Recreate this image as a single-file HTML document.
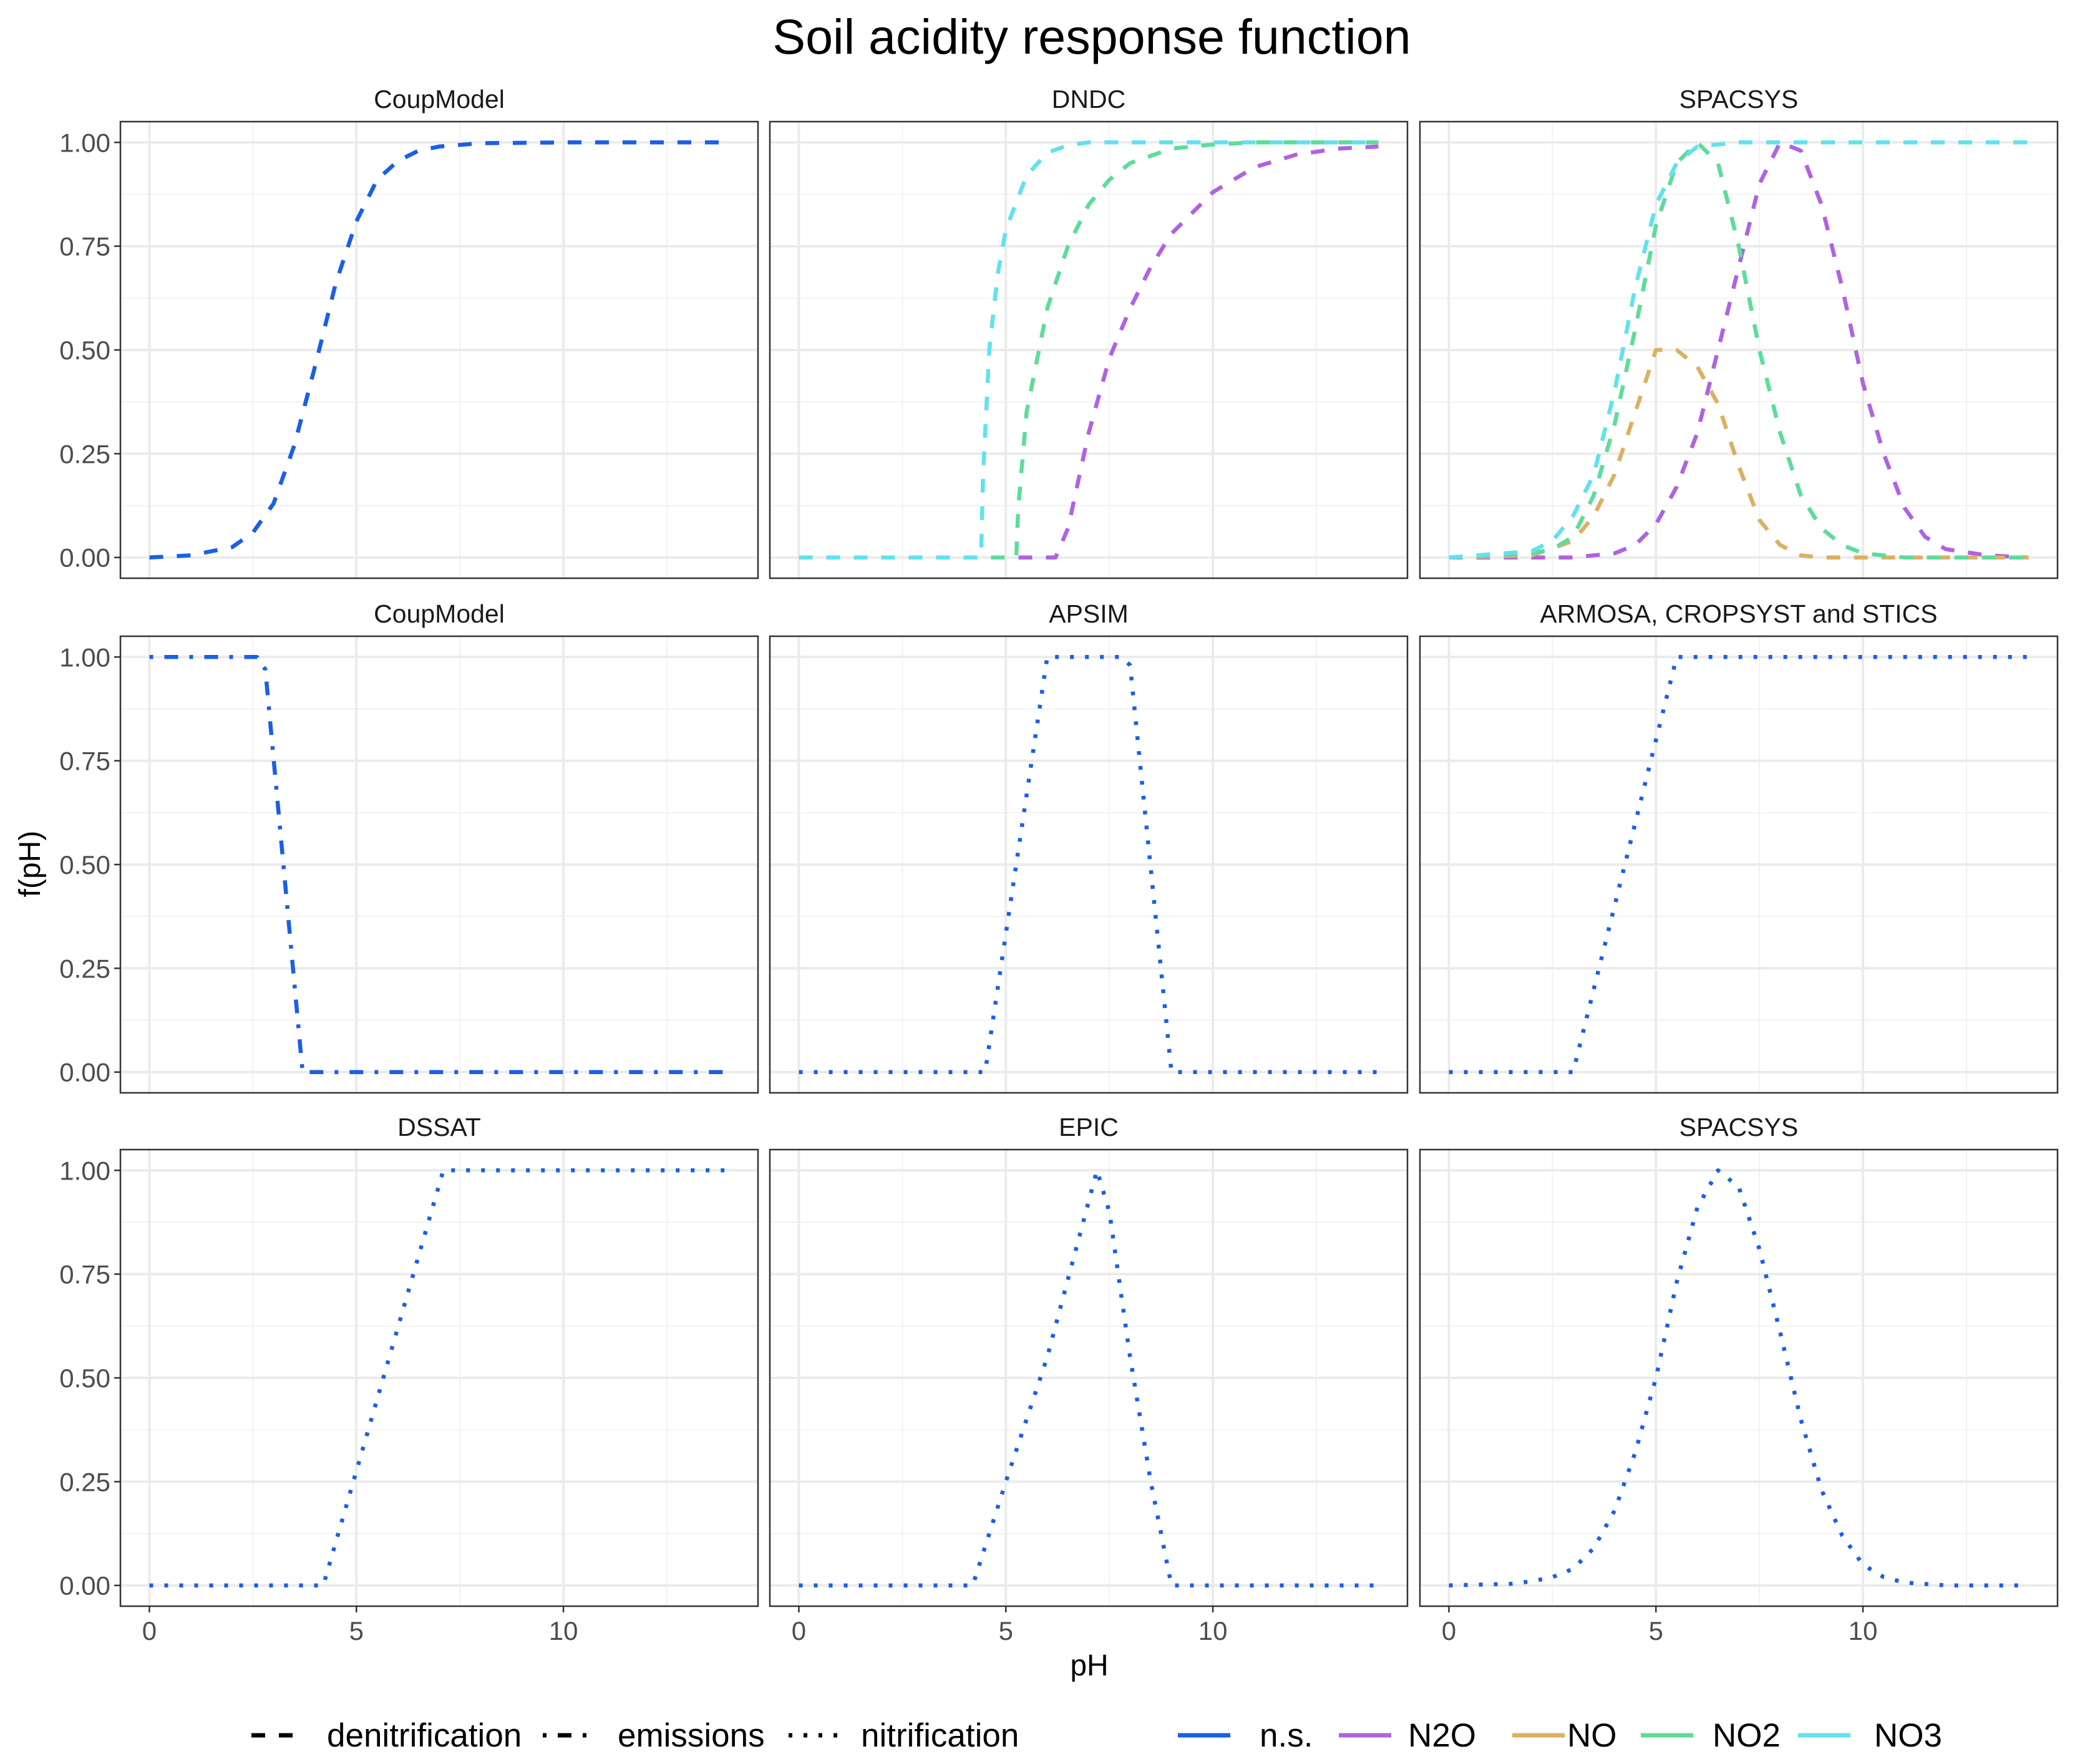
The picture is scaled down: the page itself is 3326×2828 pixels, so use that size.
<!DOCTYPE html>
<html><head><meta charset="utf-8">
<style>
html,body{margin:0;padding:0;background:#fff;}
svg{display:block;font-family:"Liberation Sans",Arial,sans-serif;}
</style></head>
<body>
<svg id="chart" width="3326" height="2828" viewBox="0 0 3326 2828" xmlns="http://www.w3.org/2000/svg">
<rect width="3326" height="2828" fill="#fff"/>
<text x="1750" y="86" font-size="79" text-anchor="middle" fill="#000">Soil acidity response function</text>
<text x="1746" y="2686" font-size="48" text-anchor="middle" fill="#000">pH</text>
<text x="0" y="0" font-size="48" text-anchor="middle" fill="#000" transform="translate(64,1385) rotate(-90)">f(pH)</text>
<g id="panels"></g>
<g id="legend"></g>
</svg>
<script>
// ---- data (pH, f(pH)) ----
const coupDenX = [0,1,2,2.5,3,3.5,4,4.5,5,5.5,6,6.5,7,8,10,14];
const coupDenY = [0,0.005,0.025,0.06,0.13,0.27,0.46,0.66,0.81,0.91,0.955,0.98,0.99,0.998,1,1];
const dndcNO3X = [0,4.4,4.45,4.6,4.8,5,5.5,6,6.5,7,14];
const dndcNO3Y = [0,0,0.2,0.5,0.68,0.79,0.92,0.975,0.993,1,1];
const dndcNO2X = [0,5.25,5.3,5.5,6,6.5,7,7.5,8,9,10,11,14];
const dndcNO2Y = [0,0,0.12,0.35,0.6,0.75,0.85,0.91,0.95,0.985,0.995,1,1];
const dndcN2OX = [0,6.2,6.5,7,7.5,8,8.5,9,10,11,12,13,14];
const dndcN2OY = [0,0,0.07,0.3,0.48,0.6,0.7,0.78,0.88,0.94,0.97,0.985,0.99];
const spN2OX = [0,3,4,4.5,5,5.5,6,6.5,7,7.5,8,8.5,9,9.5,10,10.5,11,11.5,12,13,14];
const spN2OY = [0,0,0.01,0.03,0.08,0.17,0.3,0.5,0.7,0.9,1,0.98,0.85,0.65,0.42,0.25,0.12,0.05,0.02,0.005,0];
const spNOX = [0,2,3,3.5,4,4.5,5,5.5,6,6.5,7,7.5,8,8.5,9,14];
const spNOY = [0,0.005,0.04,0.1,0.2,0.35,0.5,0.5,0.46,0.37,0.22,0.09,0.03,0.005,0,0];
const spNO2X = [0,2,2.5,3,3.5,4,4.5,5,5.5,6,6.5,7,7.5,8,8.5,9,9.5,10,11,14];
const spNO2Y = [0,0.01,0.02,0.05,0.15,0.32,0.55,0.8,0.95,1,0.95,0.75,0.5,0.3,0.15,0.07,0.03,0.01,0,0];
const spNO3X = [0,2,2.5,3,3.5,4,4.5,5,5.5,6,7,14];
const spNO3Y = [0,0.015,0.04,0.1,0.2,0.4,0.65,0.85,0.95,0.99,1,1];
const coupEmiX = [0,2.6,2.8,3.7,14];
const coupEmiY = [1,1,0.97,0,0];
const apsimX = [0,4.5,6,7.8,8,9,14];
const apsimY = [0,0,1,1,0.98,0,0];
const armosaX = [0,3,5.5,14];
const armosaY = [0,0,1,1];
const dssatX = [0,4.2,7.1,14];
const dssatY = [0,0,1,1];
const epicX = [0,4.2,5,6,6.8,7.2,7.5,8,8.5,9,14];
const epicY = [0,0,0.25,0.55,0.85,1,0.9,0.55,0.25,0,0];
const spNitX = [0,1.5,2,2.5,3,3.5,4,4.5,5,5.5,6,6.5,7,7.5,8,8.5,9,9.5,10,10.5,11,12,14];
const spNitY = [0,0.004,0.01,0.02,0.04,0.09,0.18,0.32,0.5,0.73,0.91,1,0.96,0.81,0.61,0.4,0.23,0.12,0.05,0.02,0.007,0,0];
const xTicks = [0,5,10];
const yTicks = [0,0.25,0.5,0.75,1];
const yTickLabels = ["0.00","0.25","0.50","0.75","1.00"];
const legendTypes = ["denitrification","emissions","nitrification"];
const legendColors = ["n.s.","N2O","NO","NO2","NO3"];

const COL = {"n.s.":"#1a5fe6","N2O":"#b062e0","NO":"#dcb063","NO2":"#5ddc9a","NO3":"#62e1ee"};
const DASH = {"denitrification":"22 22","emissions":"6 18 22 18","nitrification":"6 18"};

const panels = [
 {title:"CoupModel",r:0,c:0,series:[[coupDenX,coupDenY,"n.s.","denitrification"]]},
 {title:"DNDC",r:0,c:1,series:[[dndcN2OX,dndcN2OY,"N2O","denitrification"],[dndcNO2X,dndcNO2Y,"NO2","denitrification"],[dndcNO3X,dndcNO3Y,"NO3","denitrification"]]},
 {title:"SPACSYS",r:0,c:2,series:[[spN2OX,spN2OY,"N2O","denitrification"],[spNOX,spNOY,"NO","denitrification"],[spNO2X,spNO2Y,"NO2","denitrification"],[spNO3X,spNO3Y,"NO3","denitrification"]]},
 {title:"CoupModel",r:1,c:0,series:[[coupEmiX,coupEmiY,"n.s.","emissions"]]},
 {title:"APSIM",r:1,c:1,series:[[apsimX,apsimY,"n.s.","nitrification"]]},
 {title:"ARMOSA, CROPSYST and STICS",r:1,c:2,series:[[armosaX,armosaY,"n.s.","nitrification"]]},
 {title:"DSSAT",r:2,c:0,series:[[dssatX,dssatY,"n.s.","nitrification"]]},
 {title:"EPIC",r:2,c:1,series:[[epicX,epicY,"n.s.","nitrification"]]},
 {title:"SPACSYS",r:2,c:2,series:[[spNitX,spNitY,"n.s.","nitrification"]]}
];

const NS="http://www.w3.org/2000/svg";
const lefts=[193,1234,2276], tops=[195,1020,1843], PW=1022, PH=732;
function mk(tag,attrs,parent){const e=document.createElementNS(NS,tag);for(const k in attrs)e.setAttribute(k,attrs[k]);parent.appendChild(e);return e;}
const root=document.getElementById('panels');
panels.forEach((p,i)=>{
  const L=lefts[p.c],T=tops[p.r];
  const sx=x=>L+(x+0.7)/15.4*PW;
  const sy=y=>T+(1.05-y)/1.1*PH;
  const g=mk('g',{},root);
  
  
  mk('rect',{x:L,y:T,width:PW,height:PH,fill:'#fff'},g);
  [2.5,7.5,12.5].forEach(v=>mk('line',{x1:sx(v),x2:sx(v),y1:T,y2:T+PH,stroke:'#f2f2f2','stroke-width':2},g));
  [0.125,0.375,0.625,0.875].forEach(v=>mk('line',{x1:L,x2:L+PW,y1:sy(v),y2:sy(v),stroke:'#f2f2f2','stroke-width':2},g));
  xTicks.forEach(v=>mk('line',{x1:sx(v),x2:sx(v),y1:T,y2:T+PH,stroke:'#ebebeb','stroke-width':4},g));
  yTicks.forEach(v=>mk('line',{x1:L,x2:L+PW,y1:sy(v),y2:sy(v),stroke:'#ebebeb','stroke-width':4},g));
  p.series.forEach(s=>{
    const d=s[0].map((x,k)=>(k?'L':'M')+sx(x).toFixed(1)+' '+sy(s[1][k]).toFixed(1)).join(' ');
    const path=mk('path',{d:d,fill:'none',stroke:COL[s[2]],'stroke-width':6.5,'stroke-dasharray':DASH[s[3]],'stroke-linejoin':'round'},g);
    
    
  });
  mk('rect',{x:L,y:T,width:PW,height:PH,fill:'none',stroke:'#333','stroke-width':2.5},g);
  const st=mk('text',{x:L+PW/2,y:T-22,'font-size':41,'text-anchor':'middle',fill:'#1a1a1a'},g);
  st.textContent=p.title;
  
  
  if(p.c===0){
    yTicks.forEach((v,k)=>{
      mk('line',{x1:L-10,x2:L,y1:sy(v),y2:sy(v),stroke:'#333','stroke-width':2.5},g);
      const t=mk('text',{x:L-16,y:sy(v)+15,'font-size':42,'text-anchor':'end',fill:'#4d4d4d'},g);
      t.textContent=yTickLabels[k];
      
      
    });
  }
  if(p.r===2){
    xTicks.forEach(v=>{
      mk('line',{x1:sx(v),x2:sx(v),y1:T+PH,y2:T+PH+10,stroke:'#333','stroke-width':2.5},g);
      const t=mk('text',{x:sx(v),y:T+PH+54,'font-size':42,'text-anchor':'middle',fill:'#4d4d4d'},g);
      t.textContent=String(v);
      
      
    });
  }
});
const lg=document.getElementById('legend');
const typeKeyX=[403,870,1264], typeTextX=[524,990,1380];
legendTypes.forEach((n,k)=>{
  const ln=mk('line',{x1:typeKeyX[k],x2:typeKeyX[k]+86,y1:2782,y2:2782,stroke:'#000','stroke-width':7,'stroke-dasharray':DASH[n]},lg);
  
  
  const t=mk('text',{x:typeTextX[k],y:2800,'font-size':53,fill:'#000'},lg);
  t.textContent=n;
  
  
});
const colKeyX=[1888,2146,2424,2630,2882], colTextX=[2019,2257,2512,2745,3004];
legendColors.forEach((n,k)=>{
  const ln=mk('line',{x1:colKeyX[k],x2:colKeyX[k]+84,y1:2782,y2:2782,stroke:COL[n],'stroke-width':7},lg);
  
  
  const t=mk('text',{x:colTextX[k],y:2800,'font-size':53,fill:'#000'},lg);
  t.textContent=n;
  
  
});
</script>
</body></html>
